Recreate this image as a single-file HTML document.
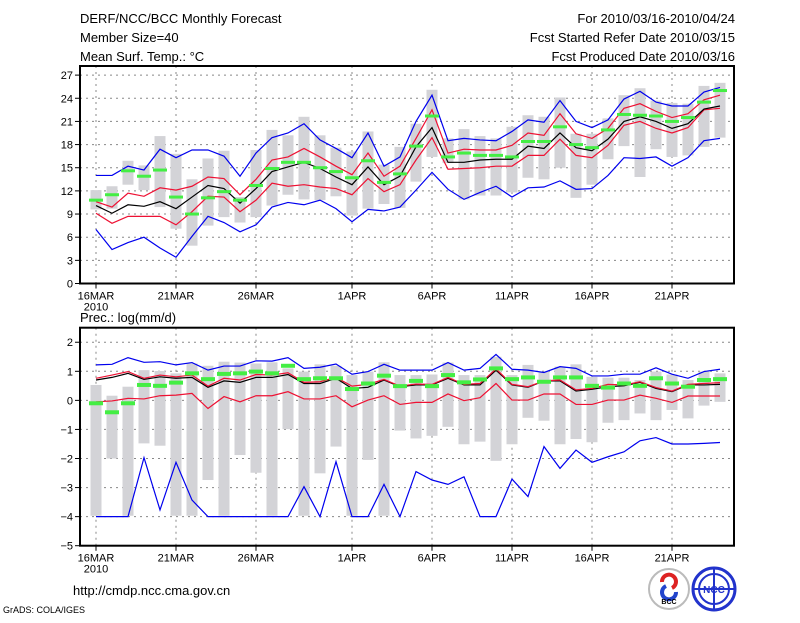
<!DOCTYPE html>
<html><head><meta charset="utf-8">
<style>
body{margin:0;background:#fff;width:800px;height:618px;overflow:hidden;font-family:"Liberation Sans",sans-serif;}
svg text{font-family:"Liberation Sans",sans-serif;}
</style></head>
<body>
<svg id="chart" width="800" height="618" xmlns="http://www.w3.org/2000/svg">
<text x="80" y="23" font-size="13">DERF/NCC/BCC Monthly Forecast</text>
<text x="80" y="42" font-size="13">Member Size=40</text>
<text x="80" y="61" font-size="13">Mean Surf. Temp.: °C</text>
<text x="735" y="23" font-size="13" text-anchor="end">For 2010/03/16-2010/04/24</text>
<text x="735" y="42" font-size="13" text-anchor="end">Fcst Started Refer Date 2010/03/15</text>
<text x="735" y="61" font-size="13" text-anchor="end">Fcst Produced Date 2010/03/16</text>
<text x="80" y="322" font-size="13">Prec.: log(mm/d)</text>
<text x="73" y="595" font-size="13">http://cmdp.ncc.cma.gov.cn</text>
<text x="3" y="613" font-size="9">GrADS: COLA/IGES</text>
<g>
<circle cx="669" cy="589" r="20" fill="#fff" stroke="#bbb" stroke-width="2"/>
<path d="M662 582 a7 7 0 1 1 10 6" fill="none" stroke="#d22" stroke-width="4"/>
<path d="M676 592 a7 7 0 1 1 -10 -6" fill="none" stroke="#24c" stroke-width="4"/>
<text x="669" y="604" font-size="7" text-anchor="middle" font-weight="bold">BCC</text>
</g>
<g>
<circle cx="714" cy="589" r="21" fill="#fff" stroke="#23c" stroke-width="3"/>
<circle cx="714" cy="589" r="15" fill="none" stroke="#23c" stroke-width="2"/>
<line x1="693" y1="589" x2="735" y2="589" stroke="#23c" stroke-width="2"/>
<line x1="714" y1="568" x2="714" y2="610" stroke="#23c" stroke-width="2"/>
<text x="714" y="593" font-size="10" text-anchor="middle" font-weight="bold" fill="#23c">NCC</text>
</g>
</svg>
<script>
// x axis
const dates = ["16MAR","21MAR","26MAR","1APR","6APR","11APR","16APR","21APR"];
const dateDays = [0,5,10,16,21,26,31,36];
// Temperature (top)
const tMax  = [14.0,14.0,15.2,14.7,17.4,16.3,17.3,17.3,16.5,13.9,16.9,18.9,19.5,20.7,18.6,17.5,16.3,19.5,15.2,16.4,21.0,24.4,18.5,18.8,18.6,18.5,19.7,21.2,20.9,23.7,21.0,20.2,21.2,23.9,24.9,23.5,23.0,23.0,24.8,25.4];
const tMin  = [7.0,4.4,5.3,6.0,4.6,3.4,6.1,8.7,7.9,6.7,7.6,9.9,10.5,10.2,10.8,9.7,8.0,9.6,9.4,9.9,12.1,14.4,12.2,10.9,11.8,12.6,11.2,12.4,12.5,13.3,12.2,12.3,14.0,16.3,16.2,16.4,15.2,16.3,18.5,18.8];
const tUp   = [10.6,9.9,11.7,11.3,12.4,12.1,12.6,13.8,13.6,11.5,13.5,16.0,16.4,17.5,16.4,15.2,14.1,16.9,13.9,15.2,18.8,22.5,16.9,17.4,17.3,17.3,17.9,19.5,19.2,22.0,19.4,18.8,20.1,22.7,23.3,22.3,21.5,22.0,23.8,24.4];
const tLow  = [9.1,7.8,8.7,8.7,8.7,7.6,9.3,11.3,11.2,9.3,10.8,13.0,12.6,12.8,12.5,12.3,11.5,13.6,11.9,12.8,16.0,18.9,14.8,14.9,15.0,15.2,15.2,16.6,16.6,18.7,16.6,16.3,17.9,20.5,21.0,20.1,19.5,20.2,22.5,22.7];
const tMean = [10.1,9.1,10.2,10.0,10.6,9.7,11.2,12.7,12.3,10.4,12.3,14.5,15.1,15.7,14.9,13.8,12.8,15.1,12.8,13.9,17.7,20.2,15.7,15.7,16.0,16.1,16.1,17.8,17.5,19.5,17.6,17.2,18.7,21.0,21.6,21.0,20.1,20.7,22.6,23.0];
const tMed  = [10.8,11.5,14.6,13.9,14.7,11.2,9.0,11.1,11.9,10.8,12.7,14.9,15.7,15.7,15.0,14.5,13.7,15.9,13.1,14.2,17.8,21.7,16.4,16.9,16.6,16.6,16.4,18.4,18.4,20.3,18.0,17.6,19.9,21.9,21.8,21.7,21.0,21.5,23.5,25.0];
const tBarHi= [12.1,12.6,15.9,15.3,19.1,16.8,13.5,16.2,17.2,11.2,17.3,19.9,19.2,21.6,19.2,17.6,17.1,19.7,15.4,17.7,20.7,25.1,18.8,20.0,19.1,18.8,20.3,21.8,21.6,24.1,19.4,19.4,21.4,24.4,25.3,23.7,23.4,23.3,25.6,26.0];
const tBarLo= [9.6,9.7,12.8,12.1,9.9,7.1,4.9,7.5,8.6,7.9,8.6,10.1,11.5,10.9,10.8,11.3,8.8,9.7,10.3,9.8,13.2,16.4,15.6,10.9,11.4,11.4,11.8,13.7,13.5,15.0,11.1,12.8,16.1,17.8,13.8,17.4,16.4,16.6,17.7,18.9];
const tTicks = [0,3,6,9,12,15,18,21,24,27];
// Precipitation (bottom)
const pMax  = [1.22,1.24,1.47,1.31,1.33,1.22,1.3,1.04,1.18,1.18,1.36,1.35,1.47,1.1,1.14,1.25,0.9,0.99,1.24,1.04,1.04,1.04,1.3,1.04,1.1,1.58,1.07,1.04,0.96,1.16,1.1,0.84,0.84,0.9,0.9,1.12,0.9,0.76,0.99,1.07];
const pMin  = [-4,-4,-4,-1.97,-3.77,-2.13,-3.43,-4,-4,-4,-4,-4,-4,-2.97,-4,-2.11,-4,-4,-2.89,-4,-2.45,-2.74,-2.89,-2.63,-4,-4,-2.71,-3.31,-1.59,-2.34,-1.71,-2.13,-1.94,-1.77,-1.39,-1.28,-1.5,-1.5,-1.48,-1.45];
const pUp   = [0.76,0.87,0.99,0.76,0.87,0.81,0.87,0.49,0.76,0.7,0.89,0.87,0.95,0.62,0.64,0.79,0.49,0.55,0.72,0.49,0.56,0.55,0.79,0.55,0.58,1.08,0.55,0.47,0.67,0.7,0.36,0.41,0.55,0.53,0.64,0.44,0.32,0.55,0.58,0.61];
const pLow  = [-0.05,-0.02,0.07,0.05,0.16,0.18,0.24,-0.28,0.13,-0.05,0.16,0.16,0.3,0.05,0.05,0.16,-0.22,0.01,0.16,-0.14,-0.07,-0.07,0.22,-0.01,0.09,0.58,0.01,0.01,0.22,0.22,-0.14,-0.14,0.01,0.01,0.18,0.07,-0.07,0.15,0.15,0.15];
const pMean = [0.7,0.79,0.93,0.72,0.81,0.76,0.79,0.45,0.67,0.62,0.79,0.79,0.89,0.58,0.58,0.76,0.41,0.45,0.7,0.47,0.53,0.53,0.76,0.53,0.53,1.04,0.53,0.45,0.67,0.67,0.32,0.38,0.47,0.5,0.62,0.41,0.3,0.53,0.53,0.55];
const pMed  = [-0.1,-0.41,-0.1,0.53,0.5,0.61,0.93,0.73,0.91,0.93,0.99,0.93,1.19,0.73,0.76,0.76,0.39,0.58,0.85,0.49,0.67,0.49,0.87,0.62,0.72,1.1,0.73,0.79,0.64,0.79,0.79,0.5,0.44,0.58,0.5,0.76,0.58,0.47,0.7,0.73];
const pBarHi= [0.53,0.16,0.47,1.04,1.01,0.93,1.27,1.19,1.33,1.3,1.27,1.31,1.1,0.99,1.24,1.19,0.87,0.99,1.31,0.87,0.87,0.89,1.3,0.87,0.87,1.5,0.87,1.22,0.99,1.16,1.24,0.81,0.78,0.78,0.7,0.99,0.89,0.7,0.99,0.93];
const pBarLo= [-3.97,-2.0,-3.97,-1.48,-1.56,-3.97,-3.97,-2.74,-3.97,-1.88,-2.49,-3.97,-0.99,-3.97,-2.51,-1.59,-3.97,-2.05,-3.97,-1.04,-1.31,-1.22,-0.91,-1.51,-1.42,-2.08,-1.51,-0.6,-0.7,-1.51,-1.33,-1.44,-0.77,-0.68,-0.45,-0.68,-0.33,-0.62,-0.18,-0.05];
const pTicks = [-5,-4,-3,-2,-1,0,1,2];

const NS="http://www.w3.org/2000/svg";
const svg=document.getElementById('chart');
const X0=80,X1=734;
const xDay=d=>96+16*d;
function mk(tag,attrs,parent){const e=document.createElementNS(NS,tag);for(const k in attrs)e.setAttribute(k,attrs[k]);(parent||svg).appendChild(e);return e;}

function panel(name,top,bottom,vmin,vmax,ticks,bars,series,med,medH){
  const y=v=>bottom-(v-vmin)/(vmax-vmin)*(bottom-top);
  const g=mk('g',{});
  
  
  // grid
  ticks.forEach(t=>{
    const l=mk('line',{x1:X0,x2:X1,y1:y(t),y2:y(t),stroke:'#888','stroke-width':1,'stroke-dasharray':'2,4'},g);
    
    
    const tk=mk('line',{x1:X0-5,x2:X0,y1:y(t),y2:y(t),stroke:'#000','stroke-width':1},g);
    
    
    const tx=mk('text',{x:X0-7,y:y(t)+4,'font-size':11,'text-anchor':'end'},g);
    tx.textContent=(t<0?'\u2212'+(-t):t);
    
    
  });
  dateDays.forEach((d,i)=>{
    const l=mk('line',{x1:xDay(d),x2:xDay(d),y1:top,y2:bottom,stroke:'#888','stroke-width':1,'stroke-dasharray':'2,4'},g);
    
    
    const tk=mk('line',{x1:xDay(d),x2:xDay(d),y1:bottom,y2:bottom+5,stroke:'#000'},g);
    
    
    const tx=mk('text',{x:xDay(d),y:bottom+16,'font-size':11,'text-anchor':'middle'},g);
    tx.textContent=dates[i];
    
    
  });
  const yr=mk('text',{x:xDay(0),y:bottom+27,'font-size':11,'text-anchor':'middle'},g);
  yr.textContent='2010';
  
  
  // bars
  bars[0].forEach((hi,d)=>{
    const lo=bars[1][d];
    const r=mk('rect',{x:xDay(d)-5.5,y:y(hi),width:11,height:y(lo)-y(hi),fill:'#d3d3d7'},g);
    
    
  });
  series.forEach(s=>{
    const p=mk('polyline',{points:s[0].map((v,d)=>xDay(d)+','+y(v)).join(' '),fill:'none',stroke:s[1],'stroke-width':1.2},g);
    
    
  });
  med.forEach((v,d)=>{
    const r=mk('rect',{x:xDay(d)-7,y:y(v)-medH/2,width:14,height:medH,fill:'#44ee44'},g);
    
    
  });
  const fr=mk('rect',{x:X0,y:top,width:X1-X0,height:bottom-top,fill:'none',stroke:'#000','stroke-width':2},g);
  
  
}
panel('temperature-panel',66,283.5,0,28.18,tTicks,[tBarHi,tBarLo],
  [[tMax,'#0000ee','temp-max-line'],[tMin,'#0000ee','temp-min-line'],[tUp,'#ee1133','temp-upper-line'],[tLow,'#ee1133','temp-lower-line'],[tMean,'#000','temp-mean-line']],tMed,3);
panel('precipitation-panel',327.7,545.7,-5,2.5,pTicks,[pBarHi,pBarLo],
  [[pMax,'#0000ee','prec-max-line'],[pMin,'#0000ee','prec-min-line'],[pLow,'#ee1133','prec-lower-line'],[pMean,'#000','prec-mean-line'],[pUp,'#ee1133','prec-upper-line']],pMed,4);
</script>
</body></html>
